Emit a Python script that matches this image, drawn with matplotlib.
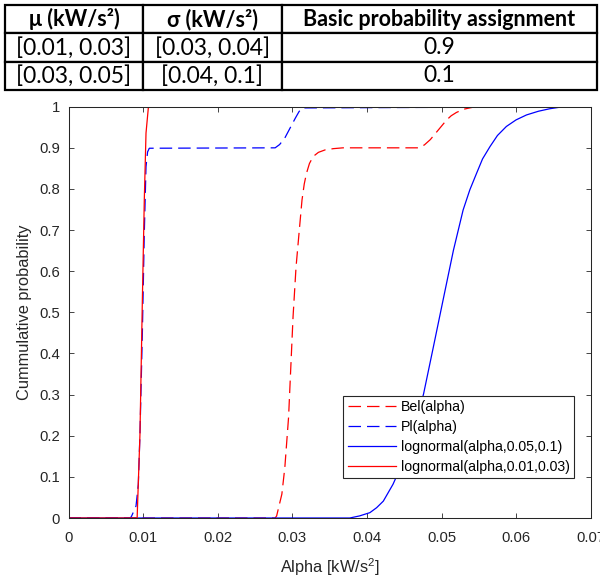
import matplotlib.pyplot as plt

plt.rcParams['font.family'] = ['Liberation Sans', 'DejaVu Sans']
plt.rcParams['mathtext.default'] = 'regular'

# table above the plot
col_labels = ['μ (kW/s²)', 'σ (kW/s²)', 'Basic probability assignment']
mu_ranges = ['[0.01, 0.03]', '[0.03, 0.05]']
sigma_ranges = ['[0.03, 0.04]', '[0.04, 0.1]']
bpa = ['0.9', '0.1']

# curves
bel_x = [0, 0.0277, 0.0279, 0.0286, 0.0290, 0.0295, 0.0298, 0.0301, 0.0305, 0.0309,
         0.0313, 0.0316, 0.0319, 0.0323, 0.0328, 0.0335, 0.0344, 0.0355, 0.0368,
         0.0469, 0.0477, 0.0485, 0.0496, 0.0507, 0.0513, 0.0520, 0.0530, 0.0543, 0.07]
bel_y = [0, 0, 0.005, 0.058, 0.123, 0.245, 0.367, 0.489, 0.61, 0.692,
         0.773, 0.812, 0.838, 0.862, 0.879, 0.889, 0.895, 0.898, 0.9,
         0.9, 0.907, 0.92, 0.944, 0.968, 0.978, 0.986, 0.994, 0.999, 1]

pl_x = [0, 0.0083, 0.00847, 0.00905, 0.00936, 0.00958, 0.0099, 0.01016, 0.01039,
        0.0106, 0.01083, 0.0277, 0.0283, 0.0290, 0.0297, 0.0304, 0.0309, 0.0313, 0.07]
pl_y = [0, 0, 0.005, 0.029, 0.082, 0.204, 0.448, 0.692, 0.854,
        0.89, 0.899, 0.9, 0.908, 0.924, 0.948, 0.972, 0.988, 0.997, 1]

logn_hi_x = [0, 0.0377, 0.039, 0.0404, 0.0413, 0.0422, 0.0435, 0.0449, 0.0462,
             0.0476, 0.0489, 0.0502, 0.0516, 0.0529, 0.0538, 0.0547, 0.0555,
             0.0565, 0.0575, 0.0587, 0.0600, 0.0614, 0.0630, 0.0645, 0.0663, 0.07]
logn_hi_y = [0, 0, 0.005, 0.013, 0.025, 0.041, 0.082, 0.139, 0.204,
             0.302, 0.415, 0.529, 0.651, 0.749, 0.798, 0.838, 0.873,
             0.903, 0.93, 0.952, 0.968, 0.980, 0.989, 0.995, 1.0, 1.0]

logn_lo_x = [0, 0.0092, 0.00958, 0.0099, 0.01016, 0.01039, 0.0107, 0.0109, 0.07]
logn_lo_y = [0, 0, 0.204, 0.529, 0.773, 0.936, 0.997, 1.0, 1.0]

xticks = [0, 0.01, 0.02, 0.03, 0.04, 0.05, 0.06, 0.07]
xtick_labels = ['0', '0.01', '0.02', '0.03', '0.04', '0.05', '0.06', '0.07']
yticks = [0, 0.1, 0.2, 0.3, 0.4, 0.5, 0.6, 0.7, 0.8, 0.9, 1]
ytick_labels = ['0', '0.1', '0.2', '0.3', '0.4', '0.5', '0.6', '0.7', '0.8', '0.9', '1']

W, H = 600, 577
fig = plt.figure(figsize=(W / 100, H / 100), dpi=100)

# --- table ---
tab_ax = fig.add_axes([5 / W, 1 - 90 / H, 592 / W, 85 / H])
tab_ax.axis('off')
rows = [[m, s, b] for m, s, b in zip(mu_ranges, sigma_ranges, bpa)]
tbl = tab_ax.table(cellText=rows, colLabels=col_labels, cellLoc='center',
                   colWidths=[0.233, 0.235, 0.532], bbox=[0, 0, 1, 1])
tbl.auto_set_font_size(False)
for (r, c), cell in tbl.get_celld().items():
    cell.set_linewidth(1.6)
    cell.set_edgecolor('black')
    txt = cell.get_text()
    txt.set_family(['Lato', 'Noto Sans'])
    if r == 0:
        txt.set_fontsize(15.5)
        txt.set_weight('bold')
    else:
        txt.set_fontsize(16.5)

# --- plot ---
ax = fig.add_axes([68.5 / W, 59 / H, 522.2 / W, 411.3 / H])
lw = 0.9
ax.plot(bel_x, bel_y, color='red', ls='--', dashes=(10, 4.8), lw=lw, label='Bel(alpha)')
ax.plot(pl_x, pl_y, color='blue', ls='--', dashes=(10, 4.8), lw=lw, label='Pl(alpha)')
ax.plot(logn_hi_x, logn_hi_y, color='blue', lw=lw, label='lognormal(alpha,0.05,0.1)')
ax.plot(logn_lo_x, logn_lo_y, color='red', lw=lw, label='lognormal(alpha,0.01,0.03)')

ax.set_xlim(0, 0.07)
ax.set_ylim(0, 1)
ax.set_xticks(xticks, xtick_labels)
ax.set_yticks(yticks, ytick_labels)
ax.tick_params(direction='in', top=True, right=True, length=3.5, width=0.6,
               color='#262626', labelcolor='#262626', labelsize=10.7)
ax.tick_params(axis='x', pad=9.5)
ax.tick_params(axis='y', pad=6)
for sp in ax.spines.values():
    sp.set_linewidth(0.75)
    sp.set_color('#262626')

ax.set_xlabel('Alpha [kW/s$^2$]', fontsize=11.8, color='#262626', labelpad=8)
ax.set_ylabel('Cummulative probability', fontsize=11.8, color='#262626', labelpad=5)

leg = ax.legend(loc='upper left', bbox_to_anchor=(0.5262, 0.2976), borderaxespad=0,
                fontsize=10.2, handlelength=3.4, handletextpad=0.35, labelspacing=0.42,
                borderpad=0.3, fancybox=False, framealpha=1, edgecolor='#262626')
leg.get_frame().set_linewidth(0.8)

fig.savefig('out.png', dpi=100)
